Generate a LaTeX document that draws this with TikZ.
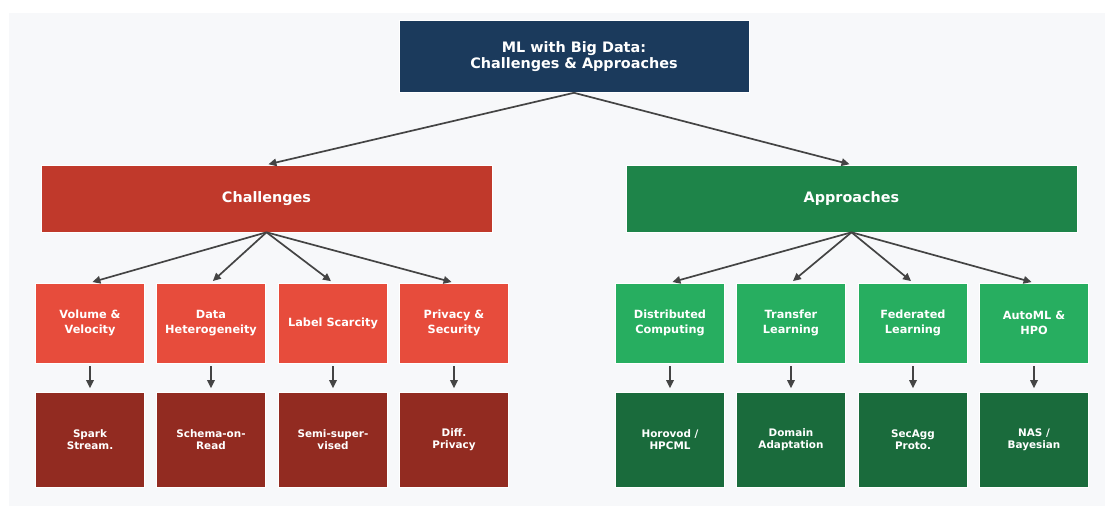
\documentclass[tikz,border=0pt]{standalone}
\usepackage{fontspec}
\setmainfont{DejaVu Sans}
\usetikzlibrary{arrows.meta}
\definecolor{bgc}{HTML}{F7F8FA}
\definecolor{titlec}{HTML}{1B3A5C}
\definecolor{redmid}{HTML}{C0392B}
\definecolor{redlight}{HTML}{E74C3C}
\definecolor{reddark}{HTML}{922B21}
\definecolor{greenmid}{HTML}{1E8449}
\definecolor{greenlight}{HTML}{27AE60}
\definecolor{greendark}{HTML}{1A6B3C}
\definecolor{arrowc}{HTML}{444444}
\tikzset{
  box/.style={rectangle, inner sep=0pt, draw=white, line width=0.6pt, text=white, align=center, font=\bfseries},
  titlebox/.style={box, fill=titlec, minimum width=350pt, minimum height=72pt, font=\bfseries\fontsize{14.4}{16}\selectfont},
  midbox/.style={box, minimum width=451pt, minimum height=67pt, font=\bfseries\fontsize{14.4}{16}\selectfont},
  lvtwo/.style={box, minimum width=108.5pt, minimum height=80pt, font=\bfseries\fontsize{11.3}{15}\selectfont},
  lvthree/.style={box, minimum width=108.5pt, minimum height=95pt, font=\bfseries\fontsize{10.4}{11.7}\selectfont},
  conn/.style={draw=arrowc, line width=1.7pt, -{Triangle[length=8pt,width=7.5pt]}},
}
\begin{document}
\begin{tikzpicture}[x=1pt,y=-1pt]
\useasboundingbox (0,0) rectangle (1105,506);
\fill[white] (0,0) rectangle (1105,506);
\fill[bgc] (9,13) rectangle (1105,506);

\node[titlebox] (title) at (574,56.5) {ML with Big Data:\\Challenges \& Approaches};
\node[midbox, fill=redmid] (ch) at (266.5,198.5) {Challenges};
\node[midbox, fill=greenmid] (ap) at (851.5,198.5) {Approaches};

\node[lvtwo, fill=redlight] (c1) at (90,323) {Volume \&\\Velocity};
\node[lvtwo, fill=redlight] (c2) at (211,323) {Data\\Heterogeneity};
\node[lvtwo, fill=redlight] (c3) at (333,323) {Label Scarcity};
\node[lvtwo, fill=redlight] (c4) at (454,323) {Privacy \&\\Security};

\node[lvtwo, fill=greenlight] (a1) at (670,323) {Distributed\\Computing};
\node[lvtwo, fill=greenlight] (a2) at (791,323) {Transfer\\Learning};
\node[lvtwo, fill=greenlight] (a3) at (913,323) {Federated\\Learning};
\node[lvtwo, fill=greenlight] (a4) at (1034,323) {AutoML \&\\HPO};

\node[lvthree, fill=reddark] (d1) at (90,439.5) {Spark\\Stream.};
\node[lvthree, fill=reddark] (d2) at (211,439.5) {Schema-on-\\Read};
\node[lvthree, fill=reddark] (d3) at (333,439.5) {Semi-super-\\vised};
\node[lvthree, fill=reddark] (d4) at (454,439.5) {Diff.\\Privacy};

\node[lvthree, fill=greendark] (e1) at (670,439.5) {Horovod /\\HPCML};
\node[lvthree, fill=greendark] (e2) at (791,439.5) {Domain\\Adaptation};
\node[lvthree, fill=greendark] (e3) at (913,439.5) {SecAgg\\Proto.};
\node[lvthree, fill=greendark] (e4) at (1034,439.5) {NAS /\\Bayesian};

\draw[conn, shorten >=2pt] (title.south) -- (ch.north);
\draw[conn, shorten >=2pt] (title.south) -- (ap.north);
\foreach \k in {1,2,3,4}{
  \draw[conn, shorten >=2.5pt] (ch.south) -- (c\k.north);
  \draw[conn, shorten >=2.5pt] (ap.south) -- (a\k.north);
  \draw[conn, shorten <=3pt, shorten >=3.5pt] (c\k.south) -- (d\k.north);
  \draw[conn, shorten <=3pt, shorten >=3.5pt] (a\k.south) -- (e\k.north);
}
\end{tikzpicture}
\end{document}
